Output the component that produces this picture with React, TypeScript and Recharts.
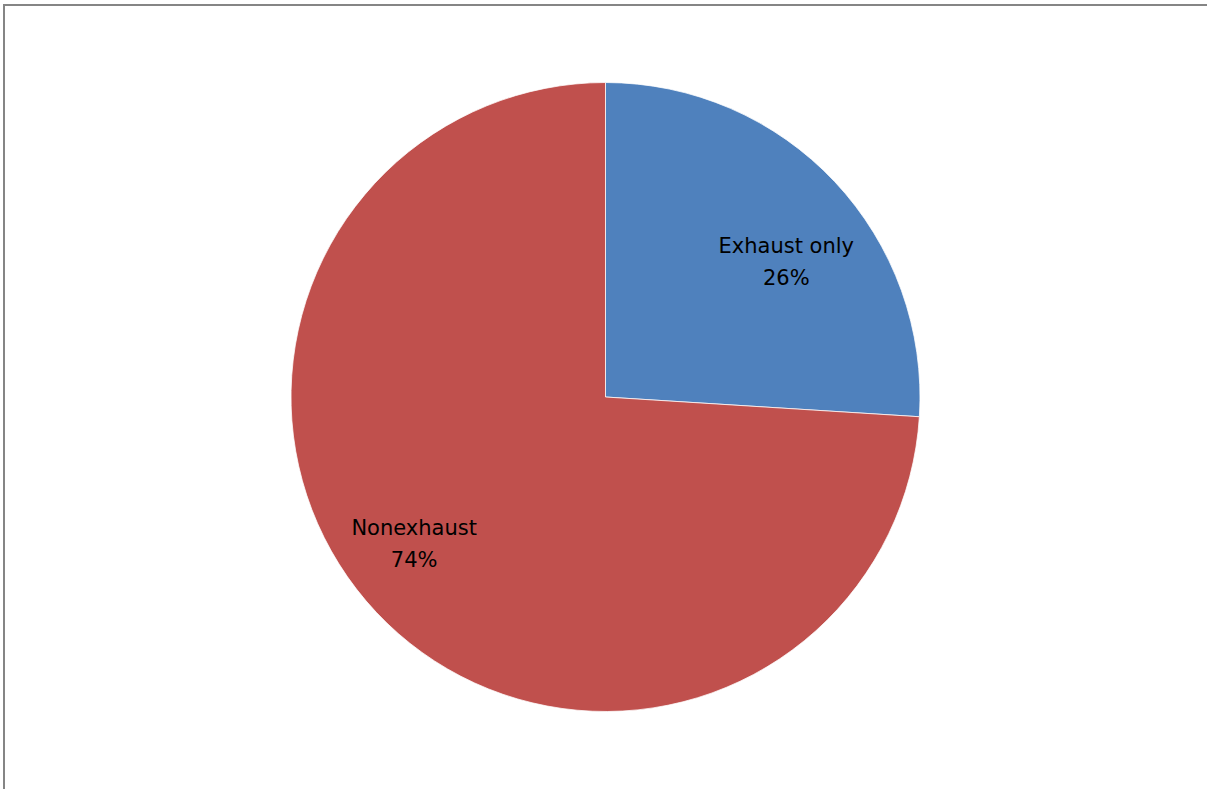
import React from 'react';
import { PieChart, Pie, Cell } from 'recharts';

const categories = ['Exhaust only', 'Nonexhaust'];
const shares = [26, 74];
const sliceColors = ['#4F81BD', '#C0504D'];

const data = categories.map((name, i) => ({ name, value: shares[i] }));

const RAD = Math.PI / 180;

// Excel "best fit" puts the labels a little off the slice mid-angle
const renderLabel = (props: any) => {
  const { cx, cy, midAngle, outerRadius, index, name, percent } = props;
  const frac = index === 0 ? 0.715 : 0.77;
  const shift = index === 0 ? -6.7 : -5.4;
  const a = (midAngle + shift) * RAD;
  const r = outerRadius * frac;
  const x = cx + r * Math.cos(a);
  const y = cy - r * Math.sin(a);
  return (
    <text
      x={x}
      y={y}
      textAnchor="middle"
      fill="#000"
      fontFamily="'DejaVu Sans', sans-serif"
      fontSize={21}
    >
      <tspan x={x} dy={-10}>{name}</tspan>
      <tspan x={x} dy={32}>{`${Math.round(percent * 100)}%`}</tspan>
    </text>
  );
};

export default function App() {
  return (
    <div
      style={{
        position: 'absolute',
        left: 0,
        top: 0,
        width: 1207,
        height: 789,
        background: '#fff',
        overflow: 'hidden',
      }}
    >
      <div
        style={{
          position: 'absolute',
          left: 3,
          top: 4,
          width: 1210,
          height: 800,
          borderLeft: '2px solid #858585',
          borderTop: '2px solid #858585',
        }}
      />
      <div style={{ position: 'absolute', left: 0, top: 0 }}>
        <PieChart width={1207} height={789} margin={{ top: 0, right: 0, bottom: 0, left: 0 }}>
          <Pie
            data={data}
            dataKey="value"
            nameKey="name"
            cx={605.5}
            cy={397}
            outerRadius={314.5}
            startAngle={90}
            endAngle={-270}
            stroke="#ffffff"
            strokeWidth={0.75}
            label={renderLabel}
            labelLine={false}
            isAnimationActive={false}
          >
            {data.map((d, i) => (
              <Cell key={d.name} fill={sliceColors[i]} />
            ))}
          </Pie>
        </PieChart>
      </div>
    </div>
  );
}
